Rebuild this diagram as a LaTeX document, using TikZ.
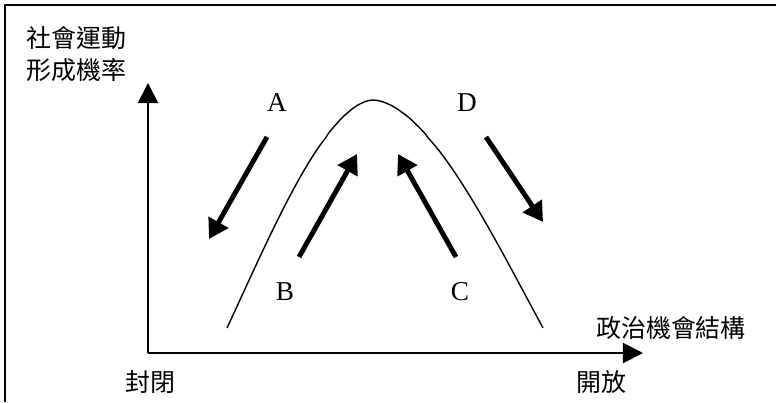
\documentclass[tikz,border=0pt]{standalone}
\usepackage{fontspec}
\setmainfont{Liberation Serif}
\newfontfamily\cjk{Noto Sans CJK TC}
\usetikzlibrary{arrows.meta}

\begin{document}
\begin{tikzpicture}[x=0.02cm,y=-0.02cm,
  axis/.style={line width=1.1pt,-{Triangle[length=11.4pt,width=11.4pt]}},
  trend/.style={line width=2.8pt,-{Triangle[length=11pt,width=12.5pt]}},
  zh/.style={font=\cjk\fontsize{14.2}{16}\selectfont,inner sep=0pt},
  lt/.style={font=\fontsize{15.5}{18}\selectfont,inner sep=0pt}]
\useasboundingbox (0,0) rectangle (776,402);
% frame (left and top edges only)
\draw[line width=1.4pt] (5,402) -- (5,5) -- (776,5);

% axes
\coordinate (O) at (148,353);
\coordinate (ytip) at (148,83);
\coordinate (xtip) at (643,353);
\draw[axis] (O) -- (ytip);
\draw[axis] (O) -- (xtip);

\node[zh,anchor=west] (ylab1) at (26,38) {社會運動};
\node[zh,anchor=west] (ylab2) at (26,70) {形成機率};
\node[zh] (xlab) at (671,328) {政治機會結構};
\node[zh] (closed) at (150,382) {封閉};
\node[zh] (open) at (601,382) {開放};

% bell curve
\draw[line width=0.8pt]
  plot[domain=1:0,samples=50] ({373-146*\x},{100+228*(1-cos(90*\x))^0.88})
  -- plot[domain=0:1,samples=50] ({373+170*\x},{100+228*(1-cos(90*\x))^0.88});

% trends
\foreach \nm/\sx/\sy/\ex/\ey in {a/267/137/209/239, b/299/257/357/154,
                                 c/456/257/398/154, d/486/137/543/222}{
  \coordinate (\nm0) at (\sx,\sy);
  \coordinate (\nm1) at (\ex,\ey);
  \draw[trend] (\nm0) -- (\nm1);
}
\node[lt] (la) at (277,103) {A};
\node[lt] (lb) at (285,292) {B};
\node[lt] (lc) at (460,292) {C};
\node[lt] (ld) at (467,103) {D};
\end{tikzpicture}
\end{document}
